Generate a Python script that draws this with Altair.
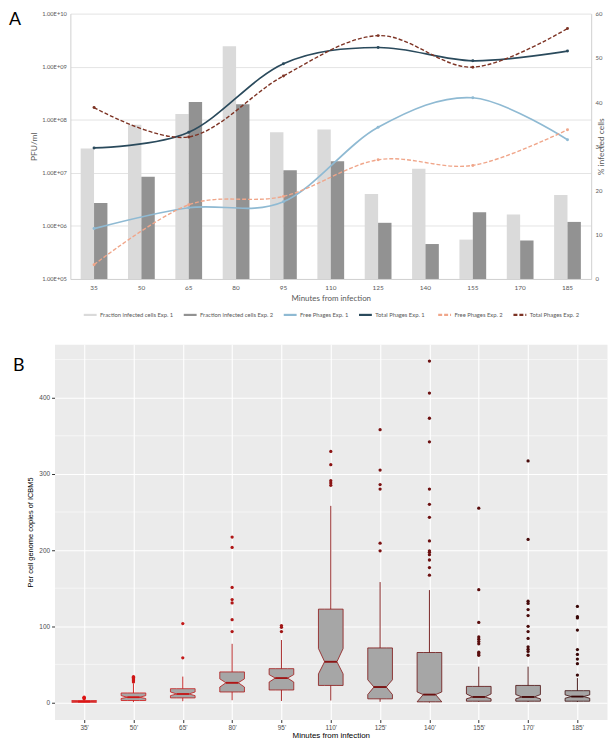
import json
import pandas as pd
import altair as alt

# ---------------- Panel A data ----------------
minutes = ["35", "50", "65", "80", "95", "110", "125", "140", "155", "170", "185"]
frac_exp1 = [29.5, 34.9, 37.3, 52.6, 33.2, 33.8, 19.2, 24.9, 8.9, 14.6, 19.0]
frac_exp2 = [17.2, 23.1, 40.0, 39.5, 24.6, 26.6, 12.7, 7.9, 15.1, 8.7, 12.9]

phage_minutes = ["35", "65", "95", "125", "155", "185"]
free_exp1 = [8.9e5, 2.2e6, 2.85e6, 7.2e7, 2.6e8, 4.2e7]
total_exp1 = [2.95e7, 5.8e7, 1.14e9, 2.3e9, 1.29e9, 1.97e9]
free_exp2 = [1.86e5, 2.5e6, 3.6e6, 1.76e7, 1.38e7, 6.5e7]
total_exp2 = [1.7e8, 4.75e7, 6.7e8, 3.85e9, 9.8e8, 5.25e9]

pfu_ticks = [1e5, 1e6, 1e7, 1e8, 1e9, 1e10]
pct_ticks = [0, 10, 20, 30, 40, 50, 60]

series_names = [
    "Fraction infected cells Exp. 1",
    "Fraction infected cells Exp. 2",
    "Free Phages Exp. 1",
    "Total Phages Exp. 1",
    "Free Phages Exp. 2",
    "Total Phages Exp. 2",
]
series_colors = ["#dadada", "#929292", "#8fbad3", "#2a4a5c", "#f0a68a", "#7d3324"]
dash_pattern = [4, 2]

# ---------------- Panel B data ----------------
box_labels = ["35'", "50'", "65'", "80'", "95'", "110'", "125'", "140'", "155'", "170'", "185'"]
whisk_lo = [0.0, 0.5, 1.7, 3.0, 2.0, 2.6, 0.9, 0.0, 0.8, 0.6, 0.6]
q1 = [0.3, 2.6, 6.0, 13.8, 16.4, 22.4, 4.8, 0.9, 1.7, 1.7, 1.7]
notch_lo = [0.8, 5.2, 9.0, 20.3, 26.8, 37.5, 10.4, 0.9, 4.8, 4.8, 5.6]
median = [1.2, 6.9, 11.2, 25.9, 32.0, 53.5, 20.3, 10.4, 7.3, 7.3, 7.8]
notch_hi = [1.6, 9.0, 13.8, 31.0, 36.6, 70.8, 29.8, 13.8, 11.2, 10.4, 10.0]
q3 = [2.5, 12.5, 18.1, 40.1, 44.4, 122.5, 71.6, 65.6, 21.1, 22.4, 15.5]
whisk_hi = [4.5, 25.0, 34.0, 77.0, 82.0, 258.0, 158.0, 147.5, 47.0, 47.0, 32.0]
outliers = [
    [5.0, 5.8, 6.5, 7.0],
    [27.0, 28.5, 30.0, 31.0, 32.0, 33.0, 34.0],
    [58.6, 103.5],
    [93.0, 108.7, 130.7, 135.0, 151.0, 203.5, 217.0],
    [93.0, 98.7, 101.0],
    [285.0, 288.0, 291.0, 312.0, 329.5],
    [199.0, 209.0, 280.0, 286.0, 305.0, 358.0],
    [167.0, 177.0, 187.0, 194.0, 197.0, 199.0, 212.0, 243.0, 260.0, 280.0, 342.0, 373.0, 406.0, 448.0],
    [62.0, 64.0, 66.0, 77.0, 80.0, 83.0, 86.0, 105.0, 148.0, 255.0],
    [62.0, 67.0, 70.0, 73.0, 84.0, 93.0, 100.0, 114.0, 122.0, 130.0, 133.0, 214.0, 317.0],
    [36.0, 51.0, 57.0, 63.0, 69.5, 95.0, 111.0, 112.5, 126.0],
]
y_major = [0, 100, 200, 300, 400]
y_minor = [50, 150, 250, 350, 450]

box_colors = ["#dd1414", "#d01616", "#c41a1a", "#b01616", "#a01515", "#8c1414",
              "#7c1212", "#6c1010", "#5a0d0d", "#480a0a", "#380707"]
box_fill = "#a6a6a6"
half_box = 0.25
half_waist = 0.125

# ---------------- Build tables ----------------
bar_df = pd.DataFrame(
    [{"minute": m, "series": series_names[0], "pct": v} for m, v in zip(minutes, frac_exp1)]
    + [{"minute": m, "series": series_names[1], "pct": v} for m, v in zip(minutes, frac_exp2)]
)
line_rows = []
for name, vals in zip(series_names[2:], [free_exp1, total_exp1, free_exp2, total_exp2]):
    for m, v in zip(phage_minutes, vals):
        line_rows.append({"minute": m, "series": name, "pfu": v})
line_df = pd.DataFrame(line_rows)
solid_df = line_df[line_df["series"].isin(series_names[2:4])]
dashed_df = line_df[line_df["series"].isin(series_names[4:6])]

fontA = "Lato"
grayA = "#595959"

color_scale = alt.Scale(domain=series_names[:4], range=series_colors[:4])
stroke_scale = alt.Scale(domain=series_names[4:], range=series_colors[4:])
fill_scale = alt.Scale(domain=series_names, range=series_colors)

legend_common = dict(
    title=None, orient="none", legendY=296, direction="horizontal",
    symbolType="stroke", symbolSize=169, symbolStrokeWidth=2.2,
    labelFontSize=5.9, labelFont=fontA, labelColor=grayA, columnPadding=6,
    labelOffset=2,
)
legend_solid = alt.Legend(legendX=12, columns=4, **legend_common)
legend_dash = alt.Legend(legendX=370, columns=2, symbolDash=dash_pattern, **legend_common)

x_a = alt.X(
    "minute:N", sort=minutes,
    scale=alt.Scale(domain=minutes, paddingInner=0.435, paddingOuter=0.2175),
    axis=alt.Axis(
        title="Minutes from infection", labelAngle=0, ticks=False, grid=False,
        domainColor="#d0d0d0", labelFontSize=6.5, labelFont=fontA, labelColor=grayA,
        labelPadding=6, titleFontSize=8, titleFont=fontA, titleColor=grayA,
        titleFontWeight="normal", titlePadding=3,
    ),
)

label_expr = "'1.00E+' + (round(log(datum.value)/LN10) < 10 ? '0' : '') + round(log(datum.value)/LN10)"
pfu_scale = alt.Scale(type="log", domain=[1e5, 1e10], nice=False)

bars = alt.Chart(bar_df).mark_bar().encode(
    x=x_a,
    xOffset=alt.XOffset("series:N", scale=alt.Scale(domain=series_names[:2])),
    y=alt.Y(
        "pct:Q", scale=alt.Scale(domain=[0, 60], nice=False),
        axis=alt.Axis(
            orient="right", values=pct_ticks, title="% infected cells", grid=False,
            ticks=False, domainColor="#d0d0d0", labelFontSize=6, labelFont=fontA,
            labelColor=grayA, labelPadding=4, titleFontSize=8.5, titleFont=fontA,
            titleColor=grayA, titleFontWeight="normal", titleAngle=270, titlePadding=3,
        ),
    ),
    fill=alt.Fill("series:N", scale=fill_scale, legend=None),
)

solid_lines = alt.Chart(solid_df).mark_line(interpolate="cardinal", strokeWidth=1.7).encode(
    x=x_a,
    y=alt.Y(
        "pfu:Q", scale=pfu_scale,
        axis=alt.Axis(
            orient="left", values=pfu_ticks, labelExpr=label_expr, title="PFU/ml",
            grid=True, gridColor="#e4e4e4", ticks=False, domainColor="#d0d0d0",
            labelFontSize=5.8, labelFont=fontA, labelColor=grayA, labelPadding=4,
            titleFontSize=8.5, titleFont=fontA, titleColor=grayA,
            titleFontWeight="normal", titlePadding=3,
        ),
    ),
    color=alt.Color("series:N", scale=color_scale, legend=legend_solid),
)

dashed_lines = alt.Chart(dashed_df).mark_line(
    interpolate="cardinal", strokeWidth=1.4, strokeDash=dash_pattern
).encode(
    x=x_a,
    y=alt.Y("pfu:Q", scale=pfu_scale, axis=None),
    stroke=alt.Stroke("series:N", scale=stroke_scale, legend=legend_dash),
)

points = alt.Chart(line_df).mark_point(filled=True, size=9, opacity=1).encode(
    x=x_a,
    y=alt.Y("pfu:Q", scale=pfu_scale, axis=None),
    fill=alt.Fill("series:N", scale=fill_scale, legend=None),
)

panel_a = alt.layer(bars, solid_lines, dashed_lines, points).resolve_scale(
    y="independent"
).properties(
    width=526, height=268,
    view=alt.ViewBackground(stroke="transparent"),
    title=alt.TitleParams(
        text="A", anchor="start", frame="group", orient="top", offset=0,
        dx=-62, dy=32, fontSize=18, font=fontA, fontWeight="normal",
        color="black", baseline="alphabetic",
    ),
)

# ---------------- Panel B ----------------
area_rows, med_rows, wh_rows, out_rows = [], [], [], []
offsets = [-half_box, -half_waist, half_waist, half_box]
for i, lab in enumerate(box_labels):
    pos = i + 1
    lo_top = [notch_lo[i], median[i], median[i], notch_lo[i]]
    hi_bot = [notch_hi[i], median[i], median[i], notch_hi[i]]
    for off, t in zip(offsets, lo_top):
        area_rows.append({"label": lab, "key": lab + "lo", "xpos": pos + off, "top": t, "bot": q1[i]})
    for off, b in zip(offsets, hi_bot):
        area_rows.append({"label": lab, "key": lab + "hi", "xpos": pos + off, "top": q3[i], "bot": b})
    med_rows.append({"label": lab, "x1": pos - half_waist, "x2": pos + half_waist, "med": median[i]})
    wh_rows.append({"label": lab, "pos": pos, "a": q3[i], "b": whisk_hi[i]})
    wh_rows.append({"label": lab, "pos": pos, "a": whisk_lo[i], "b": q1[i]})
    for o in outliers[i]:
        out_rows.append({"label": lab, "pos": pos, "v": o})

area_df = pd.DataFrame(area_rows)
med_df = pd.DataFrame(med_rows)
wh_df = pd.DataFrame(wh_rows)
out_df = pd.DataFrame(out_rows)
minor_df = pd.DataFrame({"v": y_minor})

fontB = "Liberation Sans"
bx_scale = alt.Scale(domain=[0.4, 11.6], nice=False, zero=False)
by_scale = alt.Scale(domain=[-22.4, 470], nice=False, zero=False)
lab_js = json.dumps(box_labels)
bx_axis = alt.Axis(
    values=list(range(1, 12)), labelExpr=f"{lab_js}[datum.value - 1]",
    title="Minutes from infection", grid=True, gridColor="white", gridWidth=1.1,
    tickColor="#333333", tickSize=3, domain=False, labelColor="#4d4d4d",
    labelFontSize=6.5, labelFont=fontB, labelPadding=2, titleFontSize=8,
    titleFont=fontB, titleFontWeight="normal", titleColor="black", titlePadding=1,
)
by_axis = alt.Axis(
    values=y_major, title="Per cell genome copies of ICBM5", grid=True,
    gridColor="white", gridWidth=1.1, tickColor="#333333", tickSize=3,
    domain=False, labelColor="#4d4d4d", labelFontSize=6.5, labelFont=fontB,
    labelPadding=2, titleFontSize=7.5, titleFont=fontB, titleFontWeight="normal",
    titleColor="black", titlePadding=4,
)
box_color = alt.Scale(domain=box_labels, range=box_colors)

minor = alt.Chart(minor_df).mark_rule(color="white", strokeWidth=0.55).encode(
    y=alt.Y("v:Q", scale=by_scale, axis=by_axis)
)
areas = alt.Chart(area_df).mark_area(
    fill=box_fill, strokeWidth=0.8, opacity=1, interpolate="linear"
).encode(
    x=alt.X("xpos:Q", scale=bx_scale, axis=bx_axis),
    y=alt.Y("top:Q", scale=by_scale, axis=by_axis, stack=None),
    y2="bot:Q",
    stroke=alt.Stroke("label:N", scale=box_color, legend=None),
    detail="key:N",
)
whiskers = alt.Chart(wh_df).mark_rule(strokeWidth=0.9).encode(
    x=alt.X("pos:Q", scale=bx_scale, axis=bx_axis),
    y=alt.Y("a:Q", scale=by_scale, axis=by_axis),
    y2="b:Q",
    color=alt.Color("label:N", scale=box_color, legend=None),
)
medians = alt.Chart(med_df).mark_rule(strokeWidth=1.8).encode(
    x=alt.X("x1:Q", scale=bx_scale, axis=bx_axis),
    x2="x2:Q",
    y=alt.Y("med:Q", scale=by_scale, axis=by_axis),
    color=alt.Color("label:N", scale=box_color, legend=None),
)
outs = alt.Chart(out_df).mark_circle(size=11, opacity=1).encode(
    x=alt.X("pos:Q", scale=bx_scale, axis=bx_axis),
    y=alt.Y("v:Q", scale=by_scale, axis=by_axis),
    color=alt.Color("label:N", scale=box_color, legend=None),
)

panel_b = alt.layer(minor, areas, whiskers, medians, outs).properties(
    width=558, height=379,
    view=alt.ViewBackground(fill="#ebebeb", stroke="transparent"),
    title=alt.TitleParams(
        text="B", anchor="start", frame="group", orient="top", offset=0,
        dx=-42, dy=45, fontSize=18, font=fontA, fontWeight="normal",
        color="black", baseline="alphabetic",
    ),
)

chart = alt.vconcat(panel_a, panel_b, spacing=66, bounds="flush", center=True).resolve_scale(
    color="independent", stroke="independent", fill="independent"
).properties(padding={"left": 0, "top": -2, "right": 0, "bottom": 0})

chart.save("out.html", embed_options={"renderer": "svg", "actions": False})
